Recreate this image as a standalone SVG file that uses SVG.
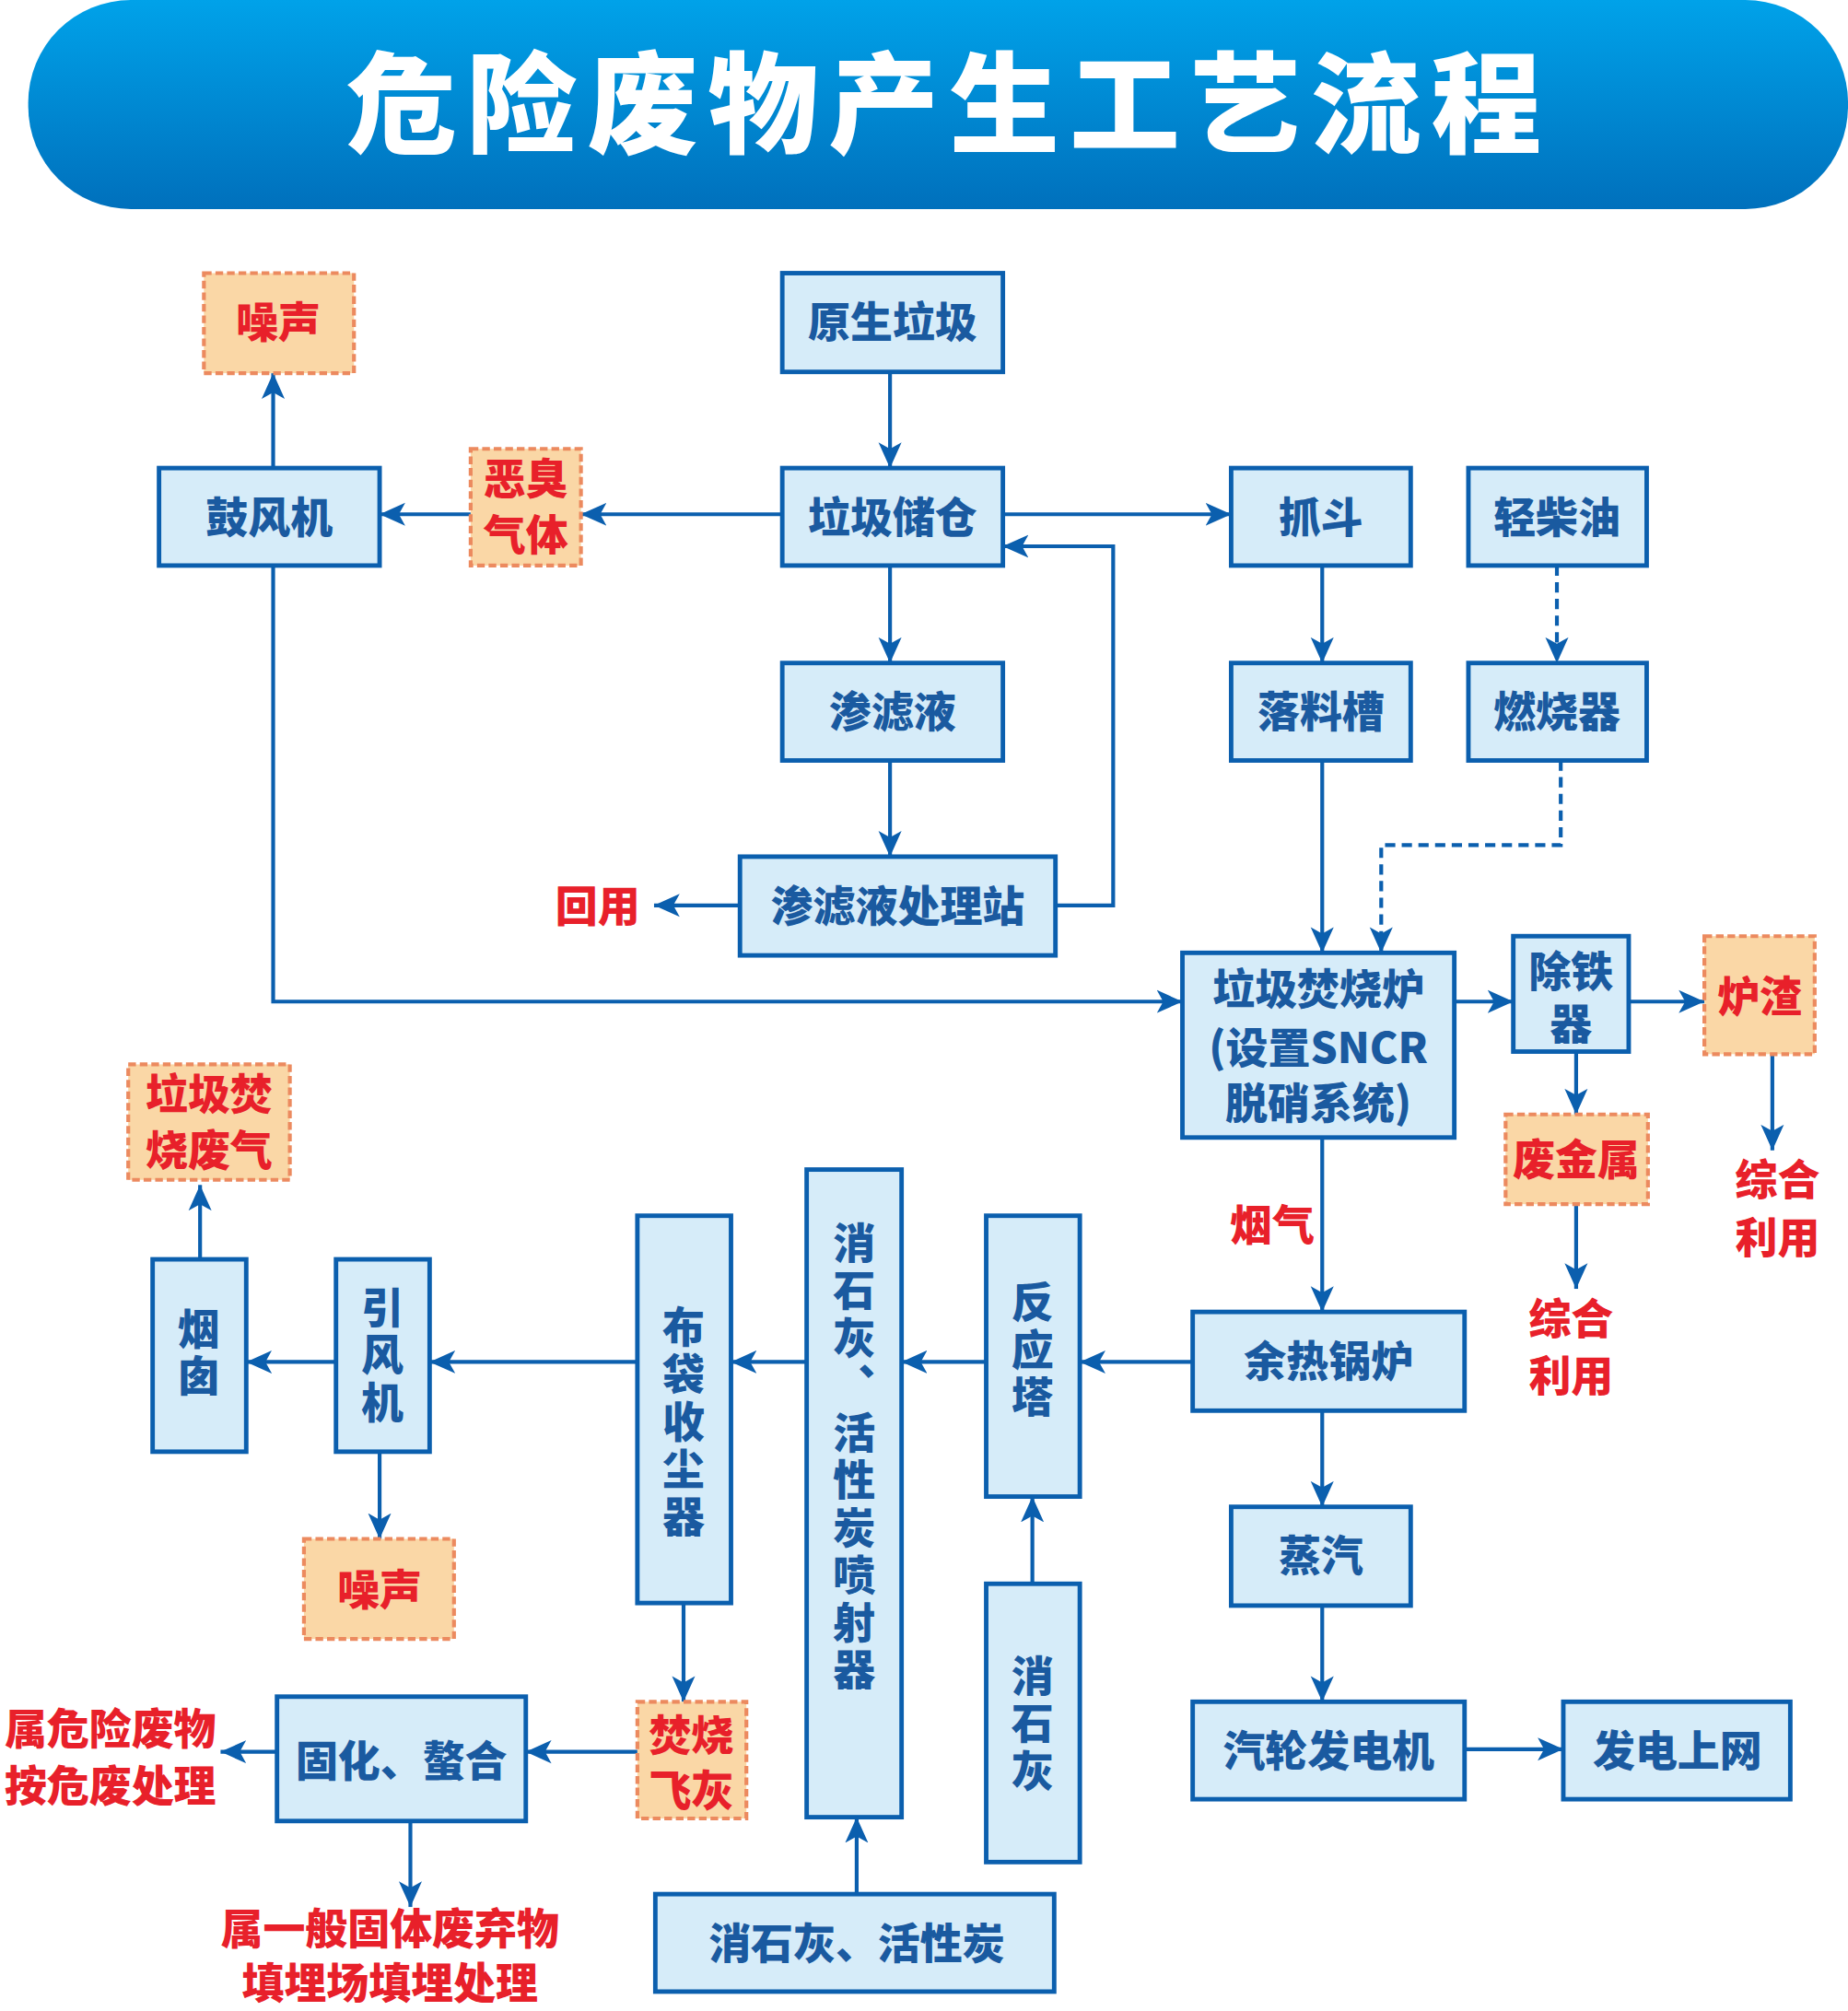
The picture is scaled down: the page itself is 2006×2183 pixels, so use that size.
<svg xmlns="http://www.w3.org/2000/svg" width="2006" height="2183" viewBox="0 0 2006 2183">
<defs>
<linearGradient id="hg" x1="0" y1="0" x2="0" y2="1"><stop offset="0" stop-color="#00a2e9"/><stop offset="1" stop-color="#0070bc"/></linearGradient>
<marker id="ar" viewBox="0 0 20 20" refX="20" refY="10" markerWidth="20" markerHeight="20" markerUnits="userSpaceOnUse" orient="auto"><path d="M0,1 L20,10 L0,19 L5,10 Z" fill="#0b5fae"/></marker>
</defs>
<style>
.b{fill:#d6ecf9;stroke:#0b5fae;stroke-width:3.5}
.d{fill:#fad7a6;stroke:#ec8a5f;stroke-width:3;stroke-dasharray:6 3}
text{font-family:"Noto Sans CJK SC","Liberation Sans",sans-serif;font-weight:900;text-anchor:middle}
.t{fill:#1a5aa0;font-size:33px}
.r{fill:#e8202a;font-size:33px}
.v{writing-mode:vertical-rl;letter-spacing:4px}
.c{fill:none;stroke:#0b5fae;stroke-width:3;marker-end:url(#ar)}
.cd{fill:none;stroke:#0b5fae;stroke-width:3;stroke-dasharray:8 5;marker-end:url(#ar)}
</style>
<g transform="scale(1.3921)">
<g id="title"><rect x="22" y="0" width="1419" height="163" rx="80" fill="url(#hg)"/><text x="740" y="113" style="fill:#fff;font-size:86px;letter-spacing:8px">危险废物产生工艺流程</text></g>
<g id="connectors">
<path class="c" d="M694,290 V365"/>
<path class="c" d="M610,401 H453"/>
<path class="c" d="M367,401 H296"/>
<path class="c" d="M213,365 V291"/>
<path class="c" d="M213,441 V781 H922"/>
<path class="c" d="M782,401 H960"/>
<path class="c" d="M823,706 H868 V426 H782"/>
<path class="c" d="M694,441 V517"/>
<path class="c" d="M694,593 V668"/>
<path class="c" d="M577,706 H510"/>
<path class="c" d="M1031,441 V517"/>
<path class="c" d="M1031,593 V743"/>
<path class="cd" d="M1214,441 V517"/>
<path class="cd" d="M1217,593 V659 H1077 V743"/>
<path class="c" d="M1134,781 H1180"/>
<path class="c" d="M1270,781 H1329"/>
<path class="c" d="M1229,820 V869"/>
<path class="c" d="M1229,939 V1005"/>
<path class="c" d="M1382,822 V897"/>
<path class="c" d="M1031,887 V1023"/>
<path class="c" d="M930,1062 H842"/>
<path class="c" d="M769,1062 H703"/>
<path class="c" d="M629,1062 H570"/>
<path class="c" d="M497,1062 H335"/>
<path class="c" d="M262,1062 H192"/>
<path class="c" d="M156,982 V924"/>
<path class="c" d="M296,1132 V1200"/>
<path class="c" d="M533,1250 V1327"/>
<path class="c" d="M497,1366 H410"/>
<path class="c" d="M216,1366 H172"/>
<path class="c" d="M320,1420 V1487"/>
<path class="c" d="M805,1235 V1167"/>
<path class="c" d="M668,1477 V1417"/>
<path class="c" d="M1031,1100 V1175"/>
<path class="c" d="M1031,1252 V1327"/>
<path class="c" d="M1142,1364 H1219"/>
</g>
<g id="n1"><rect class="b" x="610" y="213" width="172" height="77"/><text class="t" x="696" y="263">原生垃圾</text></g>
<g id="n2"><rect class="b" x="610" y="365" width="172" height="76"/><text class="t" x="696" y="415">垃圾储仓</text></g>
<g id="n3"><rect class="b" x="124" y="365" width="172" height="76"/><text class="t" x="210" y="415">鼓风机</text></g>
<g id="n4"><rect class="d" x="367" y="350" width="86" height="91"/><text class="r" x="410" y="385">恶臭</text><text class="r" x="410" y="429">气体</text></g>
<g id="n5"><rect class="d" x="159" y="213" width="117" height="78"/><text class="r" x="217" y="263">噪声</text></g>
<g id="n6"><rect class="b" x="960" y="365" width="140" height="76"/><text class="t" x="1030" y="415">抓斗</text></g>
<g id="n7"><rect class="b" x="1145" y="365" width="139" height="76"/><text class="t" x="1214" y="415">轻柴油</text></g>
<g id="n8"><rect class="b" x="610" y="517" width="172" height="76"/><text class="t" x="696" y="567">渗滤液</text></g>
<g id="n9"><rect class="b" x="960" y="517" width="140" height="76"/><text class="t" x="1030" y="567">落料槽</text></g>
<g id="n10"><rect class="b" x="1145" y="517" width="139" height="76"/><text class="t" x="1214" y="567">燃烧器</text></g>
<g id="n11"><rect class="b" x="577" y="668" width="246" height="77"/><text class="t" x="700" y="718">渗滤液处理站</text></g>
<g id="n12"><text class="r" x="466" y="718">回用</text></g>
<g id="n13"><rect class="b" x="922" y="743" width="212" height="144"/><text class="t" x="1028" y="783">垃圾焚烧炉</text><text class="t" x="1028" y="829">(设置SNCR</text><text class="t" x="1028" y="872">脱硝系统)</text></g>
<g id="n14"><rect class="b" x="1180" y="730" width="90" height="90"/><text class="t" x="1225" y="769">除铁</text><text class="t" x="1225" y="810">器</text></g>
<g id="n15"><rect class="d" x="1329" y="730" width="86" height="92"/><text class="r" x="1372" y="789">炉渣</text></g>
<g id="n16"><rect class="d" x="1174" y="869" width="111" height="70"/><text class="r" x="1229" y="916">废金属</text></g>
<g id="n17"><text class="r" x="1386" y="932">综合</text><text class="r" x="1386" y="977">利用</text></g>
<g id="n18"><text class="r" x="1225" y="1040">综合</text><text class="r" x="1225" y="1085">利用</text></g>
<g id="n19"><text class="r" x="992" y="967">烟气</text></g>
<g id="n20"><rect class="b" x="930" y="1023" width="212" height="77"/><text class="t" x="1036" y="1073">余热锅炉</text></g>
<g id="n21"><rect class="b" x="960" y="1175" width="140" height="77"/><text class="t" x="1030" y="1225">蒸汽</text></g>
<g id="n22"><rect class="b" x="930" y="1327" width="212" height="76"/><text class="t" x="1036" y="1377">汽轮发电机</text></g>
<g id="n23"><rect class="b" x="1219" y="1327" width="177" height="76"/><text class="t" x="1308" y="1377">发电上网</text></g>
<g id="n24"><rect class="b" x="769" y="948" width="73" height="219"/><text class="t v" x="805" y="1054">反应塔</text></g>
<g id="n25"><rect class="b" x="769" y="1235" width="73" height="217"/><text class="t v" x="805" y="1345">消石灰</text></g>
<g id="n26"><rect class="b" x="629" y="912" width="74" height="505"/><text class="t v" x="666" y="1137">消石灰、活性炭喷射器</text></g>
<g id="n27"><rect class="b" x="511" y="1477" width="311" height="76"/><text class="t" x="668" y="1527">消石灰、活性炭</text></g>
<g id="n28"><rect class="b" x="497" y="948" width="73" height="302"/><text class="t v" x="533" y="1110">布袋收尘器</text></g>
<g id="n29"><rect class="d" x="497" y="1327" width="85" height="91"/><text class="r" x="539" y="1365">焚烧</text><text class="r" x="539" y="1408">飞灰</text></g>
<g id="n30"><rect class="b" x="262" y="982" width="73" height="150"/><text class="t v" x="298" y="1058">引风机</text></g>
<g id="n31"><rect class="b" x="119" y="982" width="73" height="150"/><text class="t v" x="155" y="1056">烟囱</text></g>
<g id="n32"><rect class="d" x="100" y="830" width="126" height="90"/><text class="r" x="163" y="865">垃圾焚</text><text class="r" x="163" y="909">烧废气</text></g>
<g id="n33"><rect class="d" x="237" y="1200" width="117" height="78"/><text class="r" x="296" y="1251">噪声</text></g>
<g id="n34"><rect class="b" x="216" y="1323" width="194" height="97"/><text class="t" x="313" y="1385">固化、螯合</text></g>
<g id="n35"><text class="r" x="86" y="1360">属危险废物</text><text class="r" x="86" y="1404">按危废处理</text></g>
<g id="n36"><text class="r" x="304" y="1516">属一般固体废弃物</text><text class="r" x="304" y="1558">填埋场填埋处理</text></g>
</g>
</svg>
